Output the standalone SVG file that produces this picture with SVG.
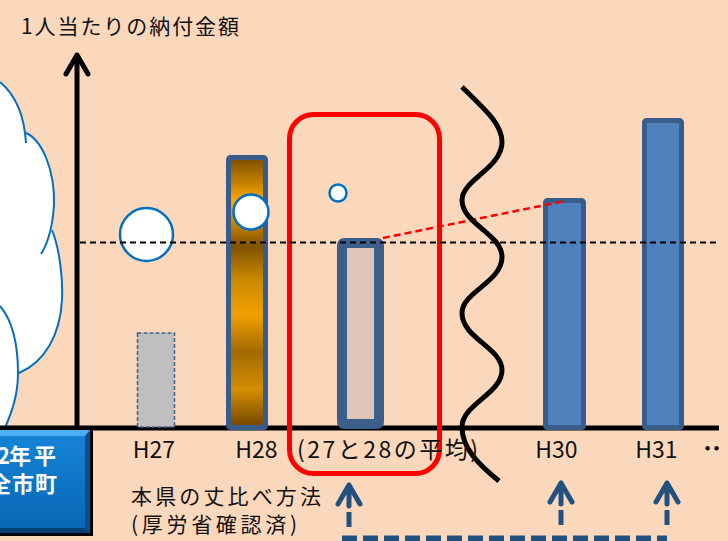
<svg xmlns="http://www.w3.org/2000/svg" width="728" height="541" viewBox="0 0 728 541">
<defs>
<style>
.t{font-family:"Noto Sans CJK JP","Noto Sans",sans-serif;fill:#111;}
.lab{font-size:23px;}
.cl{fill:none;stroke:#0070C0;stroke-width:2;}
.bar{stroke:#385D8A;stroke-width:5;}
.circ{fill:#fff;stroke:#0070C0;stroke-width:2.5;}
.arr{fill:none;stroke:#22507F;stroke-width:5;stroke-linecap:round;stroke-linejoin:round;}
.shaft{fill:none;stroke:#22507F;stroke-width:5;}
.bx{font-family:"Noto Sans CJK JP","Noto Sans",sans-serif;font-size:22px;font-weight:bold;fill:#fff;}
</style>
<linearGradient id="gold" x1="0" y1="0" x2="0" y2="1">
<stop offset="0" stop-color="#7A4C00"/>
<stop offset="0.08" stop-color="#B97A00"/>
<stop offset="0.16" stop-color="#FFA700"/>
<stop offset="0.24" stop-color="#C98600"/>
<stop offset="0.33" stop-color="#7F5200"/>
<stop offset="0.45" stop-color="#C98800"/>
<stop offset="0.58" stop-color="#F2A000"/>
<stop offset="0.72" stop-color="#A26A00"/>
<stop offset="0.86" stop-color="#D48E00"/>
<stop offset="1" stop-color="#6E4400"/>
</linearGradient>
<linearGradient id="boxg" x1="0" y1="0" x2="0" y2="1">
<stop offset="0" stop-color="#1585D8"/>
<stop offset="1" stop-color="#0866B4"/>
</linearGradient>
</defs>
<rect x="0" y="0" width="728" height="541" fill="#FBD8BC"/>

<g id="cloud">
<path d="M 0 82 C 12 92, 22 112, 26 133 C 42 140, 55 170, 54 205 C 53.5 215, 53 222, 52 230 C 60 250, 63 280, 62 300 C 60 335, 45 362, 19 373 C 18 395, 12 412, 4 430 L 0 430 Z" fill="#fff"/>
<path class="cl" d="M 0 82 C 12 92, 24 110, 26 143"/>
<path class="cl" d="M 26 133 C 42 140, 55 170, 54 205 C 53 220, 50 240, 41 254"/>
<path class="cl" d="M 52 230 C 60 250, 63 280, 62 300 C 60 335, 45 362, 19 373"/>
<path class="cl" d="M 0 306 C 10 318, 18 340, 18 373 C 18 395, 12 412, 4 430"/>
</g>

<g id="title">
<text class="t" x="21" y="34" font-size="21" textLength="218">1人当たりの納付金額</text>
</g>

<g id="axes">
<line x1="77" y1="56" x2="77" y2="430" stroke="#000" stroke-width="5"/>
<path d="M 66 74 L 77 55 L 88 74" fill="none" stroke="#000" stroke-width="5" stroke-linecap="round" stroke-linejoin="round"/>
<line x1="0" y1="428" x2="719" y2="428" stroke="#000" stroke-width="5"/>
</g>

<g id="bar-h27">
<rect x="137.5" y="333" width="37" height="94" fill="#BFBFBF" stroke="#41648F" stroke-width="1.5" stroke-dasharray="4 2"/>
<circle class="circ" cx="146.5" cy="234.5" r="26.5"/>
</g>

<g id="bar-h28">
<rect class="bar" x="228.5" y="157.5" width="37" height="270" rx="2" fill="url(#gold)"/>
<circle class="circ" cx="251" cy="212" r="17.5"/>
</g>

<g id="avg">
<rect x="289.5" y="114.5" width="150" height="359" rx="24" fill="none" stroke="#FF0000" stroke-width="5"/>
<circle class="circ" cx="338" cy="193" r="8.5" stroke-width="2"/>
<rect x="342" y="243" width="37" height="181" rx="2" fill="#DCC6BA" stroke="#3A5F8B" stroke-width="10"/>
</g>

<g id="bar-h30">
<rect class="bar" x="545.5" y="200.5" width="38" height="227" rx="2" fill="#4F81BD"/>
</g>

<g id="bar-h31">
<rect class="bar" x="644.5" y="120.5" width="37" height="307" rx="2" fill="#4F81BD"/>
</g>

<g id="connectors">
<line x1="383" y1="238" x2="565" y2="201" stroke="#FF0000" stroke-width="2.5" stroke-dasharray="7 4"/>
<line x1="80" y1="242.5" x2="718" y2="242.5" stroke="#000" stroke-width="2" stroke-dasharray="6 4"/>
<path d="M 462 87 C 488 112, 502 125, 502 142 C 502 168, 462 180, 462 200 C 462 224, 502 234, 502 257 C 502 282, 462 292, 462 313 C 462 338, 502 348, 502 370 C 502 394, 462 404, 462 427 C 462 448, 478 464, 499 481" fill="none" stroke="#000" stroke-width="5"/>
<path class="arr" d="M 338 504 L 349 485 L 360 504 M 349 485 L 349 506"/>
<line class="shaft" x1="349" y1="512" x2="349" y2="527"/>
<path class="arr" d="M 550 502 L 561 483 L 572 502 M 561 483 L 561 504"/>
<line class="shaft" x1="561" y1="510" x2="561" y2="525"/>
<path class="arr" d="M 656 502 L 667 483 L 678 502 M 667 483 L 667 504"/>
<line class="shaft" x1="667" y1="510" x2="667" y2="525"/>
<line x1="342" y1="538.5" x2="667" y2="538.5" stroke="#22507F" stroke-width="6" stroke-dasharray="15 6"/>
</g>

<g id="labels">
<text class="t lab" x="154" y="458" text-anchor="middle">H27</text>
<text class="t lab" x="256.5" y="458" text-anchor="middle">H28</text>
<text class="t lab" x="297" y="458" textLength="181">(27と28の平均)</text>
<text class="t lab" x="556.5" y="458" text-anchor="middle">H30</text>
<text class="t lab" x="656.5" y="458" text-anchor="middle">H31</text>
<text class="t" x="697" y="456" font-size="21" textLength="30">・・</text>
<text class="t" x="131" y="504" font-size="21" textLength="190">本県の丈比べ方法</text>
<text class="t" x="131" y="532" font-size="21" textLength="166">(厚労省確認済)</text>
</g>

<g id="avg-box">
<rect x="-5" y="429" width="98" height="107" fill="#000"/>
<rect x="-5" y="430" width="95" height="103" fill="url(#boxg)"/>
<polygon points="-5,430 90,430 85,436 -5,436" fill="#4DB0F5"/>
<polygon points="90,430 90,533 85,528 85,436" fill="#064E8C"/>
<polygon points="-5,533 90,533 85,528 -5,528" fill="#053F73"/>
<text class="bx" x="-3 9 34" y="464">2年平</text>
<text class="bx" x="-11 12 35" y="492">全市町</text>
</g>
</svg>
